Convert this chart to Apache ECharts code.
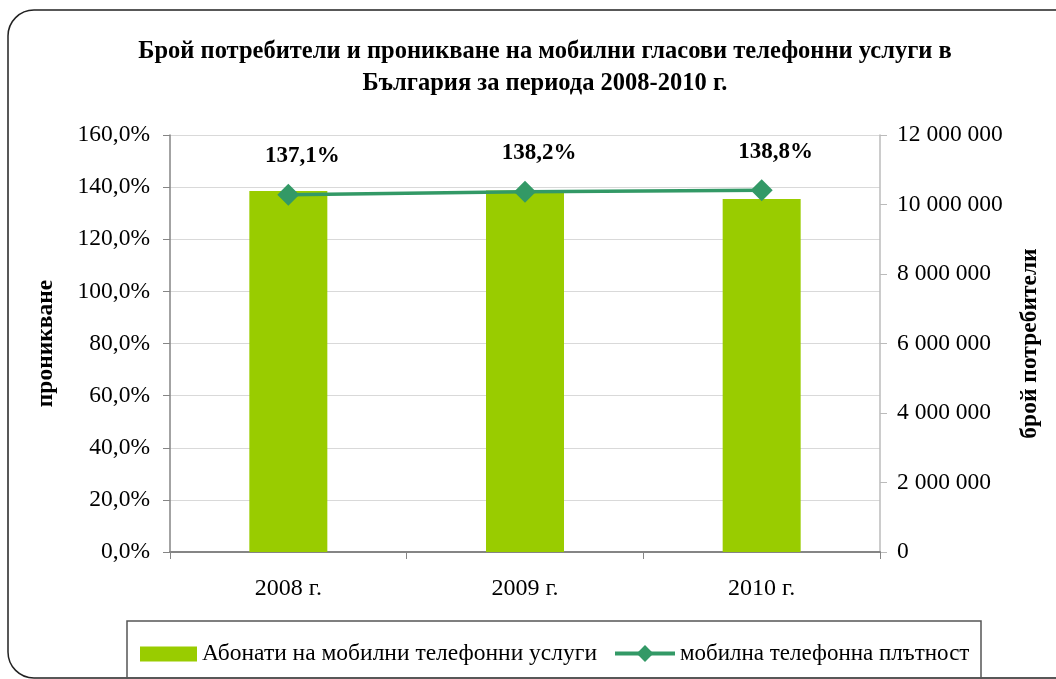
<!DOCTYPE html>
<html>
<head>
<meta charset="utf-8">
<script src="https://cdn.jsdelivr.net/npm/echarts@6/dist/echarts.min.js"></script>
<style>
html,body{margin:0;padding:0;background:#fff;}
#chart{width:1056px;height:679px;}
</style>
</head>
<body>
<div id="chart"></div>
<script>
var categories = ['2008 г.', '2009 г.', '2010 г.'];
var subscribers = [10390000, 10400000, 10160000];
var penetration = [137.1, 138.2, 138.8];
var leftTicks = {min: 0, max: 160, interval: 20};
var rightTicks = {min: 0, max: 12000000, interval: 2000000};
var seriesNames = ['Абонати на мобилни телефонни услуги', 'мобилна телефонна плътност'];
var titleText = 'Брой потребители и проникване на мобилни гласови телефонни услуги в\nБългария за периода 2008-2010 г.';
var leftAxisName = 'проникване';
var rightAxisName = 'брой потребители';

var FONT = '"Liberation Serif", "Times New Roman", serif';

function fmtPct(v) { return v.toFixed(1).replace('.', ',') + '%'; }
function fmtNum(v) { return String(Math.round(v)).replace(/\B(?=(\d{3})+(?!\d))/g, ' '); }

var chart = echarts.init(document.getElementById('chart'), null, {renderer: 'canvas'});
chart.setOption({
  backgroundColor: '#fff',
  animation: false,
  title: {
    text: titleText,
    left: 540,
    top: 31,
    textAlign: 'center',
    textStyle: {fontFamily: FONT, fontWeight: 'bold', fontSize: 24.5, lineHeight: 32, color: '#000'}
  },
  graphic: [
    {type: 'rect', shape: {x: 8, y: 10, width: 1100, height: 668, r: 26}, style: {fill: 'none', stroke: '#222', lineWidth: 1.5}, z: 100},
    {type: 'rect', shape: {x: 127, y: 621, width: 854, height: 80}, style: {fill: 'none', stroke: '#555', lineWidth: 1.5}, z: 100}
  ],
  legend: [
    {
      left: 135,
      top: 637,
      itemWidth: 57,
      itemHeight: 15,
      textStyle: {fontFamily: FONT, fontSize: 23.5, color: '#000'},
      data: [{name: seriesNames[0], icon: 'rect'}]
    },
    {
      left: 608,
      top: 637,
      itemWidth: 60,
      itemHeight: 21,
      textStyle: {fontFamily: FONT, fontSize: 23, color: '#000'},
      lineStyle: {width: 4},
      data: [{name: seriesNames[1]}]
    }
  ],
  grid: {left: 170, right: 176, top: 135, bottom: 127},
  xAxis: {
    type: 'category',
    data: categories,
    boundaryGap: true,
    axisLine: {lineStyle: {color: '#858585', width: 2}},
    axisTick: {show: true, length: 7, alignWithLabel: false, lineStyle: {color: '#858585'}},
    axisLabel: {fontFamily: FONT, fontSize: 24, color: '#000', margin: 25}
  },
  yAxis: [
    {
      type: 'value',
      min: leftTicks.min, max: leftTicks.max, interval: leftTicks.interval,
      position: 'left',
      name: leftAxisName,
      nameLocation: 'middle',
      nameRotate: 90,
      nameGap: 112,
      nameTextStyle: {fontFamily: FONT, fontSize: 23.5, fontWeight: 'bold', color: '#000'},
      axisLine: {show: true, lineStyle: {color: '#858585', width: 1.5}},
      axisTick: {show: true, length: 7, lineStyle: {color: '#858585'}},
      axisLabel: {fontFamily: FONT, fontSize: 23.5, color: '#000', margin: 20, formatter: fmtPct},
      splitLine: {show: true, lineStyle: {color: '#d9d9d9', width: 1}}
    },
    {
      type: 'value',
      min: rightTicks.min, max: rightTicks.max, interval: rightTicks.interval,
      position: 'right',
      name: rightAxisName,
      nameLocation: 'middle',
      nameRotate: 90,
      nameGap: 138,
      nameTextStyle: {fontFamily: FONT, fontSize: 23.5, fontWeight: 'bold', color: '#000'},
      axisLine: {show: true, lineStyle: {color: '#bbb', width: 1.5}},
      axisTick: {show: true, length: 7, lineStyle: {color: '#bbb'}},
      axisLabel: {fontFamily: FONT, fontSize: 23.5, color: '#000', margin: 17, formatter: fmtNum},
      splitLine: {show: false}
    }
  ],
  series: [
    {
      name: seriesNames[0],
      type: 'bar',
      yAxisIndex: 1,
      data: subscribers,
      barWidth: 78,
      itemStyle: {color: '#99CC00'}
    },
    {
      name: seriesNames[1],
      type: 'line',
      yAxisIndex: 0,
      data: penetration,
      symbol: 'diamond',
      symbolSize: 22,
      lineStyle: {color: '#339966', width: 3.5},
      itemStyle: {color: '#339966'},
      label: {
        show: true,
        position: 'top',
        distance: 16,
        offset: [14, 0],
        fontFamily: FONT, fontSize: 23, fontWeight: 'bold', color: '#000',
        formatter: function (p) { return fmtPct(p.value); }
      },
      z: 5
    }
  ]
});
</script>
</body>
</html>
